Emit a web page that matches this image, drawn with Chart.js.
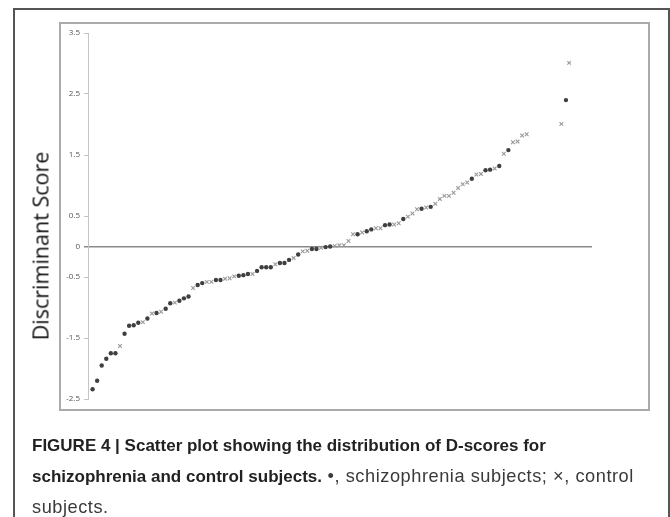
<!DOCTYPE html>
<html>
<head>
<meta charset="utf-8">
<script src="https://cdn.jsdelivr.net/npm/chart.js@4.4.0/dist/chart.umd.min.js"></script>
<style>
html, body { margin: 0; padding: 0; background: #fff; }
body { width: 670px; height: 517px; position: relative; overflow: hidden; }
#frame { position: absolute; left: 13px; top: 8px; width: 653px; height: 540px; border: 2px solid #555; border-bottom: none; }
#plotBox { position: absolute; left: 59px; top: 22px; width: 587px; height: 385px; border: 2px solid #aaa; }
#chartWrap { position: absolute; left: 0; top: 0; width: 670px; height: 517px; }
#yTitle { position: absolute; left: 40px; top: 246px; transform: translate(-50%, -50%) rotate(-90deg);
  font-family: "Open Sans", sans-serif; font-size: 21.5px; color: #111; white-space: nowrap; }
#caption { position: absolute; left: 32px; top: 430px; font-family: "Liberation Sans", Arial, sans-serif;
  font-size: 17px; line-height: 31px; color: #3a3a3a; white-space: nowrap; }
#caption b { color: #222; }
#caption span { font-size: 18.2px; letter-spacing: 0.55px; }
</style>
</head>
<body>
<div id="frame"></div>
<div id="plotBox"></div>
<div id="chartWrap"><canvas id="scoreChart" width="670" height="517"></canvas></div>
<div id="yTitle">Discriminant Score</div>
<div id="caption">
  <b>FIGURE 4 | Scatter plot showing the distribution of D-scores for</b><br>
  <b>schizophrenia and control subjects.</b><span> &bull;, schizophrenia subjects; &times;, control</span><br>
  <span>subjects.</span>
</div>
<script>
// y-axis tick values as printed in the figure
var yTicks = [-2.5, -1.5, -0.5, 0, 0.5, 1.5, 2.5, 3.5];

// position of each subject along the horizontal axis (rank order)
var ranks = [
  1, 2, 3, 4, 5, 6, 7, 8, 9, 10,
  11, 12, 13, 14, 15, 16, 17, 18, 19, 20,
  21, 22, 23, 24, 25, 26, 27, 28, 29, 30,
  31, 32, 33, 34, 35, 36, 37, 38, 39, 40,
  41, 42, 43, 44, 45, 46, 47, 48, 49, 50,
  51, 52, 53, 54, 55, 56, 57, 58, 59, 60,
  61, 62, 63, 64, 65, 66, 67, 68, 69, 70,
  71, 72, 73, 74, 75, 76, 77, 78, 79, 80,
  81, 82, 83, 84, 85, 86, 87, 88, 89, 90,
  91, 92, 93, 94, 95, 96, 103.6, 104.6, 105.3
];

// discriminant scores, same order
var scores = [
  -2.34, -2.20, -1.95, -1.84, -1.75, -1.75, -1.63, -1.43, -1.30, -1.29,
  -1.25, -1.24, -1.18, -1.10, -1.09, -1.07, -1.02, -0.93, -0.92, -0.89,
  -0.85, -0.82, -0.68, -0.63, -0.60, -0.58, -0.58, -0.55, -0.55, -0.53,
  -0.52, -0.49, -0.48, -0.47, -0.45, -0.45, -0.40, -0.34, -0.34, -0.34,
  -0.29, -0.27, -0.27, -0.22, -0.19, -0.13, -0.08, -0.07, -0.04, -0.04,
  -0.02, -0.01, 0.00, 0.01, 0.02, 0.02, 0.09, 0.20, 0.20, 0.23,
  0.25, 0.28, 0.30, 0.30, 0.35, 0.36, 0.36, 0.38, 0.45, 0.49,
  0.54, 0.61, 0.62, 0.64, 0.65, 0.70, 0.78, 0.83, 0.83, 0.88,
  0.96, 1.02, 1.05, 1.11, 1.18, 1.19, 1.25, 1.26, 1.28, 1.32,
  1.52, 1.58, 1.71, 1.72, 1.82, 1.84, 2.01, 2.40, 3.01
];

// S = schizophrenia subject, C = control subject (same order as scores)
var groups = (
  "SSSSSSCSSS" + "SCSCSCSSCS" + "SSCSSCCSSC" + "CCSSSCSSSS" + "CSSSCSCCSS" +
  "CSSCCCCCSC" + "SSCCSSCCSC" + "CCSCSCCCCC" + "CCCSCCSSCS" + "CSCCCCCSC"
).split("");

var schizoPoints = [];
var controlPoints = [];
scores.forEach(function (v, i) {
    var pt = { x: ranks[i], y: v };
    if (groups[i] === "S") schizoPoints.push(pt);
    else controlPoints.push(pt);
});

var isZero = function (c) { return c.tick && c.tick.value === 0; };

var ctx = document.getElementById("scoreChart").getContext("2d");
var scoreChart = new Chart(ctx, {
    type: "scatter",
    data: {
        datasets: [{
            label: "schizophrenia subjects",
            data: schizoPoints,
            pointStyle: "circle",
            pointRadius: 2.2,
            backgroundColor: "#3f3f3f",
            borderColor: "#3f3f3f",
            borderWidth: 0
        }, {
            label: "control subjects",
            data: controlPoints,
            pointStyle: "crossRot",
            pointRadius: 2.6,
            backgroundColor: "#9a9a9a",
            borderColor: "#9a9a9a",
            borderWidth: 1.1
        }]
    },
    options: {
        responsive: false,
        animation: false,
        events: [],
        layout: { padding: { left: 0, right: 78, top: 33, bottom: 118 } },
        plugins: { legend: { display: false }, tooltip: { enabled: false } },
        scales: {
            x: { type: "linear", display: false, min: 0, max: 110.3 },
            y: {
                type: "linear",
                min: -2.5,
                max: 3.5,
                afterFit: function (scale) { scale.width = 88; },
                afterBuildTicks: function (scale) {
                    scale.ticks = yTicks.map(function (v) { return { value: v }; });
                },
                ticks: {
                    padding: 4,
                    color: "#555",
                    font: { family: "Open Sans", size: 8 },
                    callback: function (v) { return String(v); }
                },
                grid: {
                    drawOnChartArea: true,
                    tickLength: 4,
                    color: function (c) { return isZero(c) ? "#8a8a8a" : "rgba(0,0,0,0)"; },
                    tickColor: function (c) { return isZero(c) ? "#8a8a8a" : "#c4c4c4"; },
                    lineWidth: function (c) { return isZero(c) ? 1.5 : 1; }
                },
                border: { display: true, color: "#c4c4c4", width: 1 }
            }
        }
    }
});
</script>
</body>
</html>
